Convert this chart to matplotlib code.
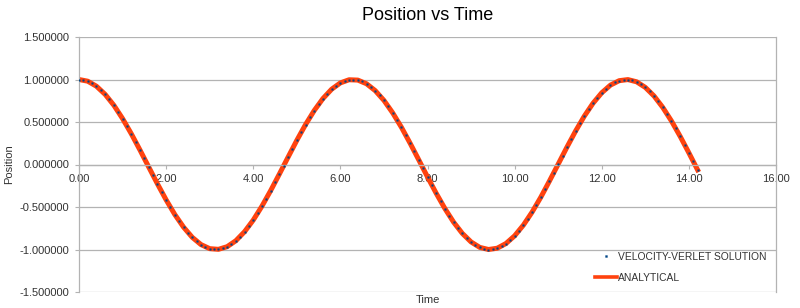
import numpy as np
import matplotlib
matplotlib.use('Agg')
import matplotlib.pyplot as plt
from matplotlib.ticker import FormatStrFormatter

plt.rcParams['font.family'] = ['Liberation Sans', 'DejaVu Sans']

# sample times (dt = 0.1) and positions
time_pts = np.round(np.arange(0, 143) * 0.1, 1)
position = [
    1.000, 0.995, 0.980, 0.955, 0.921, 0.878, 0.825, 0.765, 0.697, 0.622,
    0.540, 0.454, 0.362, 0.267, 0.170, 0.071, -0.029, -0.129, -0.227, -0.323,
    -0.416, -0.505, -0.589, -0.666, -0.737, -0.801, -0.857, -0.904, -0.942, -0.971,
    -0.990, -0.999, -0.998, -0.987, -0.967, -0.936, -0.897, -0.848, -0.791, -0.726,
    -0.654, -0.575, -0.490, -0.401, -0.307, -0.211, -0.112, -0.012, 0.087, 0.187,
    0.284, 0.378, 0.469, 0.554, 0.635, 0.709, 0.776, 0.835, 0.886, 0.927,
    0.960, 0.983, 0.997, 1.000, 0.993, 0.977, 0.950, 0.914, 0.869, 0.816,
    0.754, 0.685, 0.608, 0.526, 0.439, 0.347, 0.251, 0.153, 0.054, -0.046,
    -0.146, -0.244, -0.339, -0.431, -0.519, -0.602, -0.679, -0.749, -0.811, -0.866,
    -0.911, -0.948, -0.975, -0.992, -1.000, -0.997, -0.985, -0.962, -0.930, -0.889,
    -0.839, -0.781, -0.714, -0.641, -0.561, -0.476, -0.386, -0.292, -0.194, -0.095,
    0.004, 0.104, 0.203, 0.300, 0.394, 0.484, 0.569, 0.648, 0.721, 0.786,
    0.844, 0.893, 0.934, 0.965, 0.986, 0.998, 0.999, 0.991, 0.973, 0.945,
    0.907, 0.861, 0.806, 0.743, 0.672, 0.594, 0.512, 0.424, 0.331, 0.235,
    0.137, 0.037, -0.063,
]
position = np.array(position)

# analytical curve was plotted at coarser points
ana_idx = list(range(0, 143, 2)) + [142]
ana_t = time_pts[ana_idx]
ana_x = position[ana_idx]

x_ticks = [0, 2, 4, 6, 8, 10, 12, 14, 16]
y_ticks = [-1.5, -1.0, -0.5, 0.0, 0.5, 1.0, 1.5]

fig = plt.figure(figsize=(8, 3.08), dpi=100)
ax = fig.add_axes([79/800, 1-292/308, (776-79)/800, (292-37)/308])

ax.plot(ana_t, ana_x, color='#ff420e', lw=3.6, solid_joinstyle='round',
        label='ANALYTICAL', zorder=2)
ax.plot(time_pts, position, ls='none', marker='s', ms=1.1, color='#004586',
        mec='#004586', mew=0.3, label='VELOCITY-VERLET SOLUTION', zorder=3)

ax.set_xlim(0, 16)
ax.set_ylim(-1.5, 1.5)
ax.set_xticks(x_ticks)
ax.set_yticks(y_ticks)
ax.xaxis.set_major_formatter(FormatStrFormatter('%.2f'))
ax.yaxis.set_major_formatter(FormatStrFormatter('%.6f'))
ax.yaxis.grid(True, color='#b3b3b3', lw=0.9)
ax.set_axisbelow(True)

for s in ax.spines.values():
    s.set_color('#b3b3b3')
    s.set_linewidth(0.9)
ax.spines['bottom'].set_position(('data', 0))
ax.spines['top'].set_visible(False)

ax.tick_params(axis='both', colors='#b3b3b3', labelcolor='#333333',
               labelsize=8, length=3, width=0.8)
ax.tick_params(axis='x', pad=4)
ax.tick_params(axis='y', pad=4)

ax.set_title('Position vs Time', fontsize=13, pad=12)
ax.text(0.5, -0.03, 'Time', transform=ax.transAxes, ha='center', va='center',
        fontsize=8, color='#333333')
ax.set_ylabel('Position', fontsize=8, color='#333333')
ax.yaxis.set_label_coords(-0.093, 0.5)

h, l = ax.get_legend_handles_labels()
h[0] = plt.Line2D([], [], color='#ff420e', lw=2.6)
leg = ax.legend(h[::-1], l[::-1], loc='lower right', frameon=False,
                fontsize=7.4, bbox_to_anchor=(1.0, 0.0), handlelength=2.2,
                labelspacing=1.05, handletextpad=0.1, markerscale=1.2)
for t in leg.get_texts():
    t.set_color('#333333')

fig.savefig('out.png', dpi=100)
